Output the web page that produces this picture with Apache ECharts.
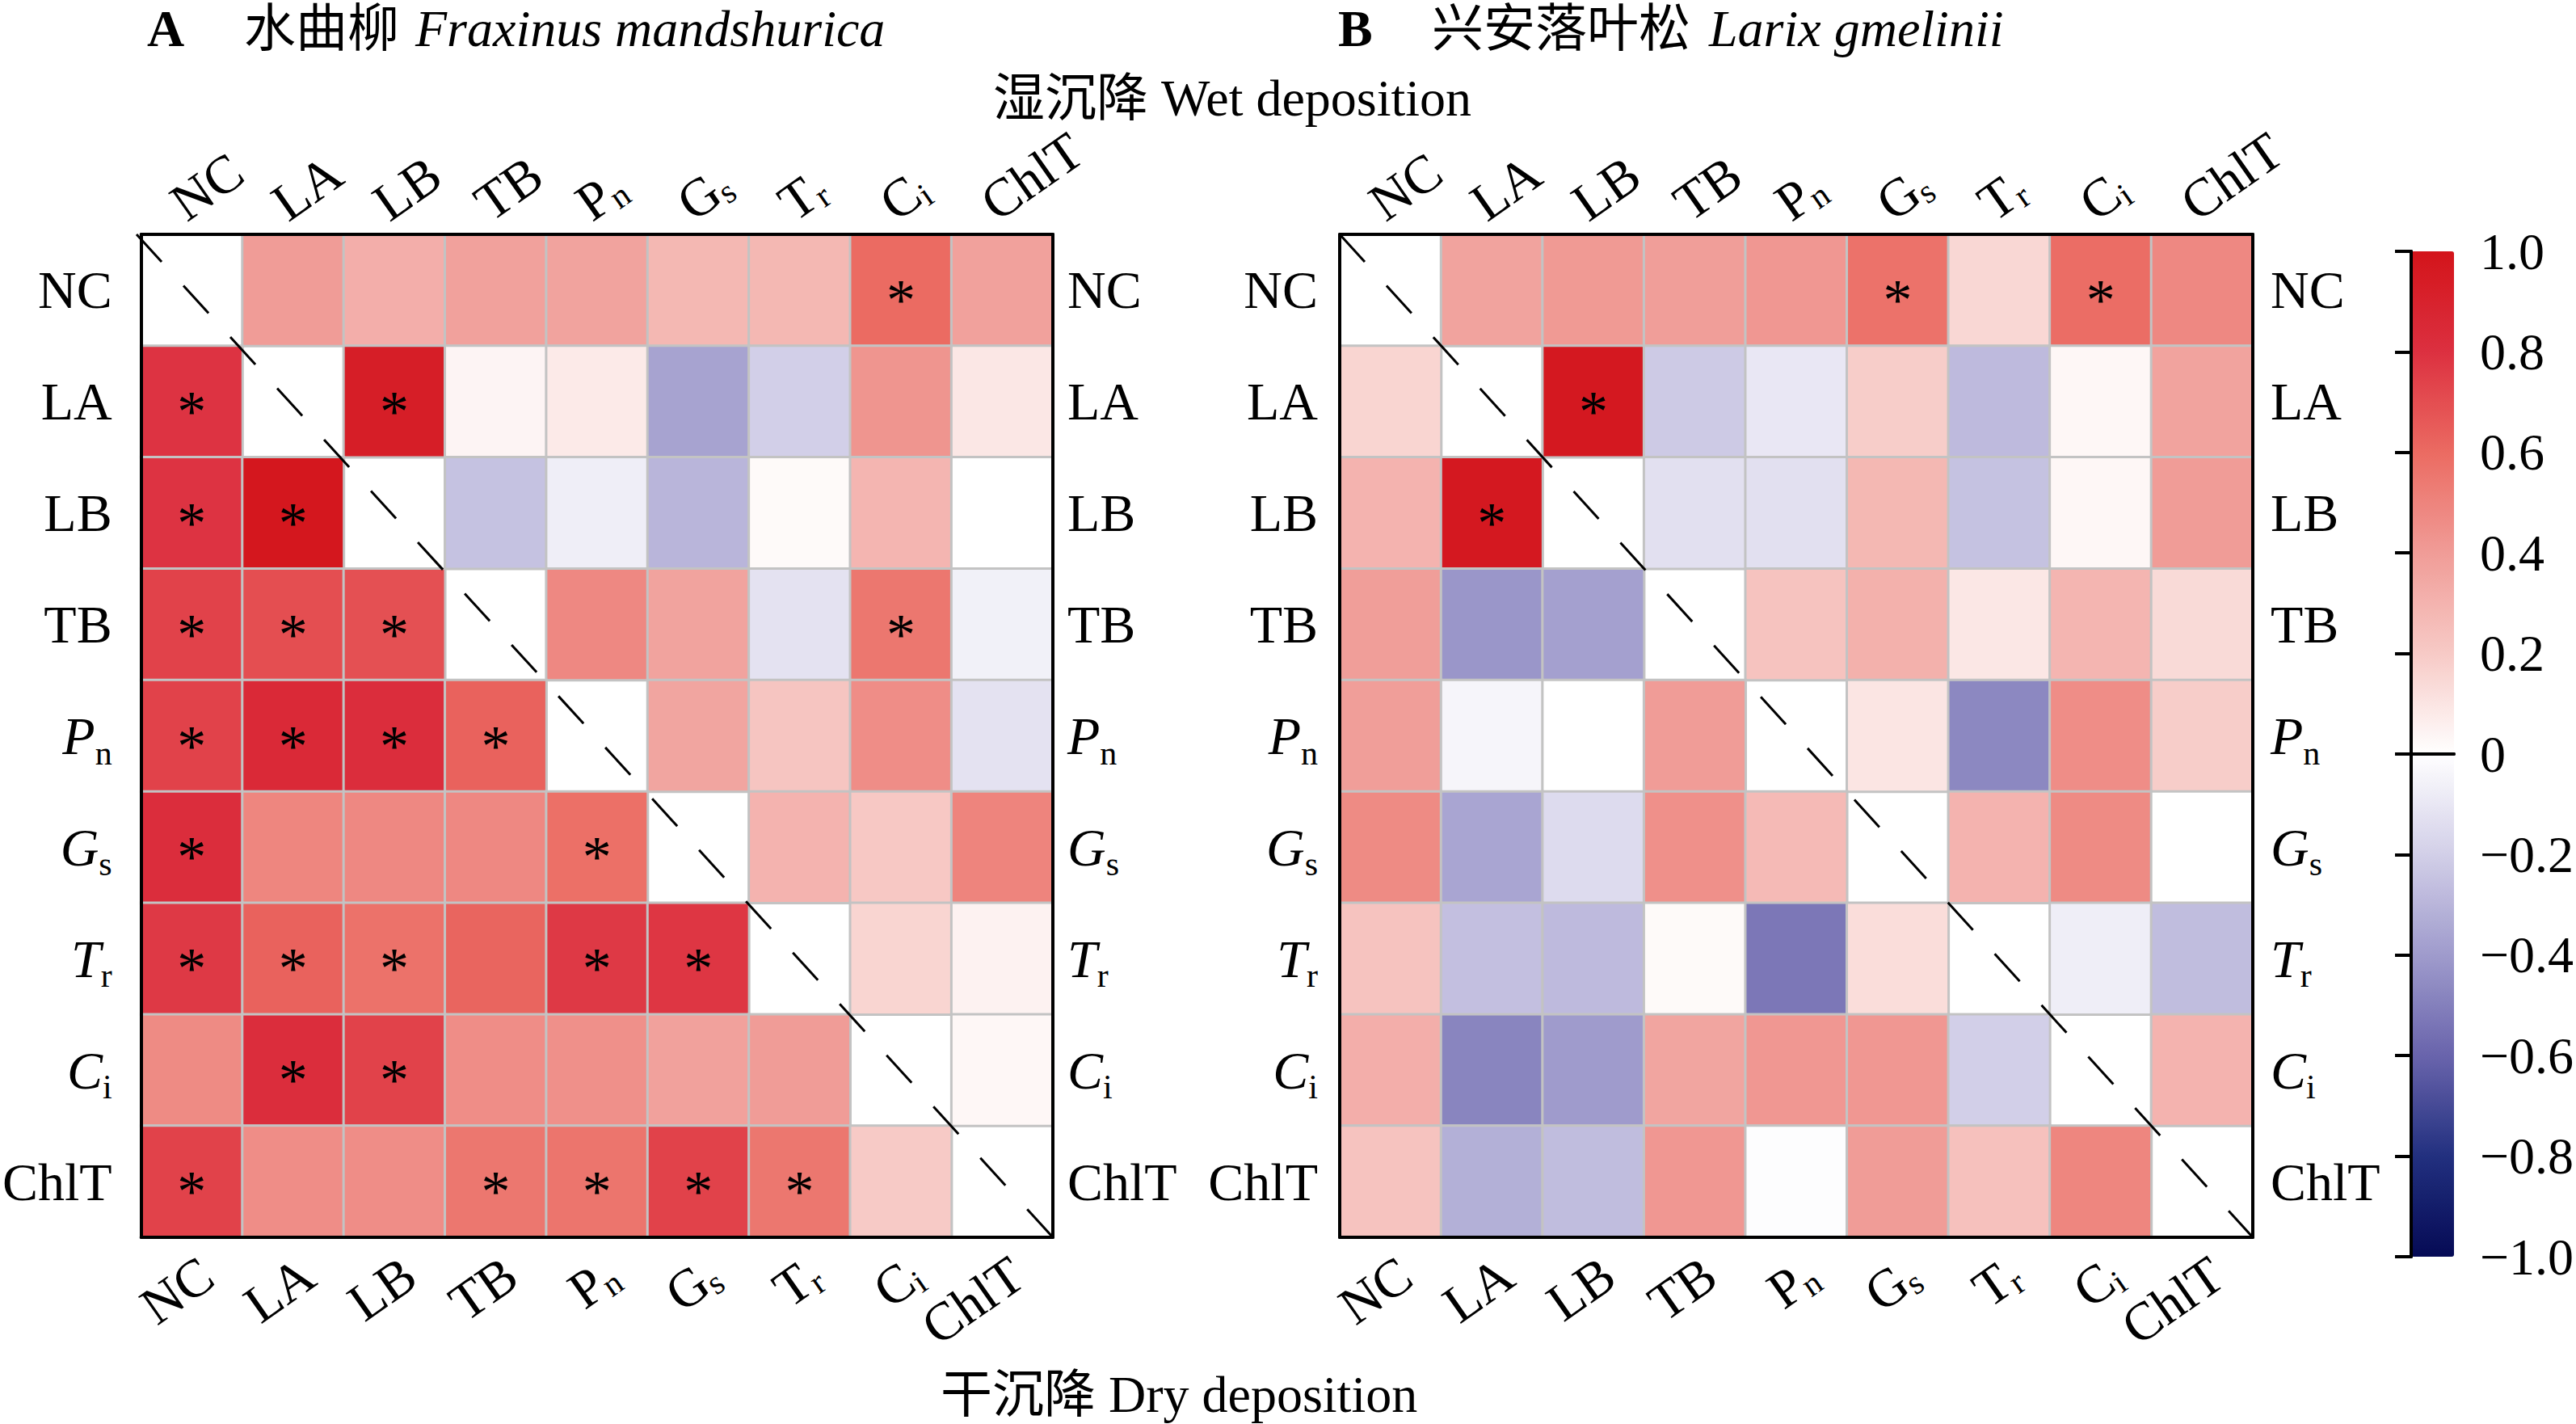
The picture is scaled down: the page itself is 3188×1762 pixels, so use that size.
<!DOCTYPE html>
<html>
<head>
<meta charset="utf-8">
<script src="https://cdn.jsdelivr.net/npm/echarts@6/dist/echarts.min.js"></script>
<style>html,body{margin:0;padding:0;background:#fff}#c{width:3188px;height:1762px}</style>
</head>
<body>
<div id="c"></div>
<script>
// ---------------- data ----------------
const variables = ['NC', 'LA', 'LB', 'TB', 'Pn', 'Gs', 'Tr', 'Ci', 'ChlT'];
const subscripts = { Pn: ['P', 'n'], Gs: ['G', 's'], Tr: ['T', 'r'], Ci: ['C', 'i'] };

// rows = row variable, cols = column variable; upper triangle = wet deposition, lower = dry deposition
const matrixA = [
  [null, 0.40, 0.32, 0.38, 0.37, 0.28, 0.28, 0.60, 0.38],
  [0.79, null, 0.93, 0.04, 0.08, -0.37, -0.20, 0.43, 0.09],
  [0.79, 0.98, null, -0.25, -0.07, -0.30, 0.02, 0.29, 0.00],
  [0.74, 0.70, 0.69, null, 0.48, 0.37, -0.12, 0.55, -0.06],
  [0.74, 0.85, 0.82, 0.63, null, 0.36, 0.22, 0.46, -0.12],
  [0.82, 0.49, 0.48, 0.48, 0.58, null, 0.30, 0.21, 0.50],
  [0.77, 0.63, 0.57, 0.62, 0.77, 0.78, null, 0.16, 0.05],
  [0.47, 0.82, 0.74, 0.46, 0.45, 0.38, 0.40, null, 0.03],
  [0.74, 0.46, 0.46, 0.55, 0.56, 0.74, 0.55, 0.20, null]
];
const matrixB = [
  [null, 0.37, 0.41, 0.39, 0.42, 0.57, 0.15, 0.59, 0.48],
  [0.16, null, 0.97, -0.22, -0.10, 0.19, -0.28, 0.03, 0.37],
  [0.30, 0.97, null, -0.13, -0.13, 0.28, -0.25, 0.03, 0.40],
  [0.39, -0.42, -0.38, null, 0.23, 0.31, 0.09, 0.29, 0.14],
  [0.39, -0.04, 0.00, 0.40, null, 0.10, -0.47, 0.46, 0.19],
  [0.47, -0.36, -0.15, 0.45, 0.27, null, 0.30, 0.47, 0.00],
  [0.23, -0.26, -0.28, 0.02, -0.53, 0.13, null, -0.07, -0.27],
  [0.32, -0.48, -0.40, 0.36, 0.42, 0.42, -0.20, null, 0.30],
  [0.23, -0.32, -0.27, 0.42, -0.01, 0.40, 0.24, 0.49, null]
];
// significant pairs [row, col]
const sigA = [[0,7],[1,2],[3,7],
  [1,0],[2,0],[2,1],[3,0],[3,1],[3,2],[4,0],[4,1],[4,2],[4,3],
  [5,0],[5,4],[6,0],[6,1],[6,2],[6,4],[6,5],[7,1],[7,2],
  [8,0],[8,3],[8,4],[8,5],[8,6]];
const sigB = [[0,5],[0,7],[1,2],[2,1]];

const diagonal = [[0, 0], [9, 9]];
const colorStops = ['#050a55', '#22307f', '#6964ac', '#9f9bcc', '#d2cfe8', '#ffffff',
                    '#f7cac6', '#f09c97', '#eb6b62', '#dc3040', '#d3141a'];

// ---------------- helpers ----------------
const F = "'Liberation Serif', 'Noto Sans CJK SC', serif";
function cells(m, sig) {
  const out = [];
  m.forEach((row, r) => row.forEach((v, c) => {
    if (v !== null) out.push([c, r, v, sig.some(p => p[0] === r && p[1] === c) ? 1 : 0]);
  }));
  return out;
}
function labelFmt(v) {
  const s = subscripts[v];
  return s ? `{m|${s[0]}}{s|${s[1]}}` : `{r|${v}}`;
}
function rich(italic, subH) {
  return {
    m: { fontSize: 66, fontFamily: F, fontStyle: italic ? 'italic' : 'normal', lineHeight: 66, color: '#000' },
    s: { fontSize: 42, fontFamily: F, height: subH, lineHeight: subH, verticalAlign: 'bottom', color: '#000' },
    r: { fontSize: 66, fontFamily: F, lineHeight: 66, color: '#000' }
  };
}
const blackLine = { show: true, lineStyle: { color: '#000', width: 4 } };
function catAxis(grid, position, extra) {
  return Object.assign({
    type: 'category', gridIndex: grid, position: position, data: variables,
    axisLine: blackLine, axisTick: { show: false }, splitLine: { show: false }, z: 10
  }, extra);
}
function xLab(pos) {
  return pos === 'top'
    ? { interval: 0, rotate: -35, formatter: labelFmt, rich: rich(false, 36), align: 'left', verticalAlign: 'bottom', margin: 6 }
    : { interval: 0, rotate: 35, formatter: labelFmt, rich: rich(false, 36), align: 'right', verticalAlign: 'top', margin: 12 };
}
function yLab(margin) {
  return { interval: 0, formatter: labelFmt, rich: rich(true, 24), margin: margin };
}
function hiddenValue(grid, inv) {
  return { type: 'value', gridIndex: grid, min: 0, max: 9, show: false, inverse: !!inv };
}

const gA = { left: 169, top: 290, width: 1134, height: 1241 };
const gB = { left: 1658, top: 290, width: 1130, height: 1241 };
const gC = { left: 2984, top: 311, width: 53, height: 1244 };

const titleStyle = (extra) => Object.assign({ fontFamily: F, fontSize: 64, color: '#000', lineHeight: 64, fontWeight: 'normal' }, extra || {});

const heatCommon = {
  type: 'heatmap',
  itemStyle: { borderColor: '#c3c3c3', borderWidth: 3 },
  label: {
    show: true, color: '#000', fontSize: 72, fontFamily: F, offset: [0, 12],
    formatter: p => (p.value[3] ? '*' : '')
  },
  emphasis: { disabled: true },
  z: 2
};

const option = {
  backgroundColor: '#fff',
  animation: false,
  title: [
    { text: 'A', left: 182, top: 3, padding: 0, textStyle: titleStyle({ fontWeight: 'bold' }) },
    { text: '水曲柳', left: 302, top: 3, padding: 0, textStyle: titleStyle() },
    { text: 'Fraxinus mandshurica', left: 514, top: 3, padding: 0, textStyle: titleStyle({ fontStyle: 'italic' }) },
    { text: 'B', left: 1656, top: 3, padding: 0, textStyle: titleStyle({ fontWeight: 'bold' }) },
    { text: '兴安落叶松', left: 1772, top: 3, padding: 0, textStyle: titleStyle() },
    { text: 'Larix gmelinii', left: 2115, top: 3, padding: 0, textStyle: titleStyle({ fontStyle: 'italic' }) },
    { text: '湿沉降 Wet deposition', left: 1229, top: 89, padding: 0, textStyle: titleStyle() },
    { text: '干沉降 Dry deposition', left: 1164, top: 1693, padding: 0, textStyle: titleStyle() }
  ],
  grid: [
    Object.assign({}, gA),
    Object.assign({}, gB),
    Object.assign({}, gA),
    Object.assign({}, gB),
    Object.assign({}, gC)
  ],
  xAxis: [
    catAxis(0, 'bottom', { axisLabel: xLab('bottom') }),
    catAxis(0, 'top', { axisLabel: xLab('top') }),
    catAxis(1, 'bottom', { axisLabel: xLab('bottom') }),
    catAxis(1, 'top', { axisLabel: xLab('top') }),
    hiddenValue(2),
    hiddenValue(3),
    { type: 'value', gridIndex: 4, position: 'bottom', min: 0, max: 1, axisLine: blackLine, axisTick: { show: false }, axisLabel: { show: false }, splitLine: { show: false }, z: 10 },
    { type: 'value', gridIndex: 4, position: 'top', min: 0, max: 1, axisLine: blackLine, axisTick: { show: false }, axisLabel: { show: false }, splitLine: { show: false }, z: 10 }
  ],
  yAxis: [
    catAxis(0, 'left', { inverse: true, axisLabel: yLab(36) }),
    catAxis(0, 'right', { inverse: true, axisLabel: yLab(18) }),
    catAxis(1, 'left', { inverse: true, axisLabel: yLab(27) }),
    catAxis(1, 'right', { inverse: true, axisLabel: yLab(22) }),
    hiddenValue(2, true),
    hiddenValue(3, true),
    { type: 'value', gridIndex: 4, position: 'left', min: -1, max: 1, axisLine: blackLine, axisTick: { show: false }, axisLabel: { show: false }, splitLine: { show: false }, z: 10 },
    {
      type: 'value', gridIndex: 4, position: 'right', min: -1, max: 1, interval: 0.2,
      axisLine: blackLine, splitLine: { show: false }, z: 10,
      axisTick: { show: true, inside: true, length: 20, lineStyle: { color: '#000', width: 4 } },
      axisLabel: {
        margin: 32, fontSize: 64, fontFamily: F, color: '#000',
        formatter: v => (Math.abs(v) < 1e-9 ? '0' : (v < 0 ? '\u2212' : '') + Math.abs(v).toFixed(1))
      }
    }
  ],
  visualMap: {
    type: 'continuous', min: -1, max: 1, dimension: 2, seriesIndex: [0, 1],
    calculable: false, hoverLink: false, orient: 'vertical',
    left: gC.left, top: gC.top, itemWidth: gC.width, itemHeight: gC.height,
    padding: 0, inRange: { color: colorStops }, textStyle: { fontSize: 0 }
  },
  series: [
    Object.assign({}, heatCommon, { xAxisIndex: 0, yAxisIndex: 0, data: cells(matrixA, sigA) }),
    Object.assign({}, heatCommon, { xAxisIndex: 2, yAxisIndex: 2, data: cells(matrixB, sigB) }),
    { type: 'line', xAxisIndex: 4, yAxisIndex: 4, data: diagonal, symbol: 'none', silent: true, z: 5,
      lineStyle: { color: '#000', width: 3, type: [46, 40] } },
    { type: 'line', xAxisIndex: 5, yAxisIndex: 5, data: diagonal, symbol: 'none', silent: true, z: 5,
      lineStyle: { color: '#000', width: 3, type: [46, 40] } }
  ]
};

const chart = echarts.init(document.getElementById('c'), null, { renderer: 'svg', width: 3188, height: 1762 });
chart.setOption(option);
</script>
</body>
</html>
